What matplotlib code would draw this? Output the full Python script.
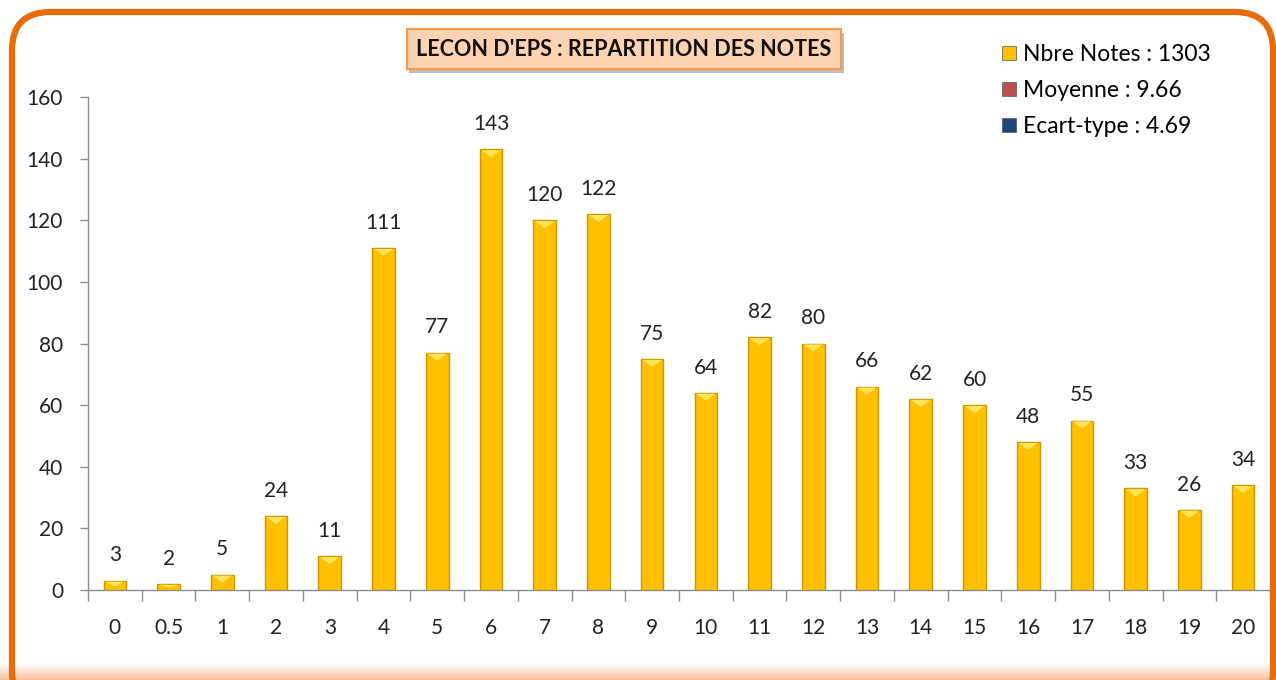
import numpy as np
import matplotlib
matplotlib.use('Agg')
import matplotlib.pyplot as plt
from matplotlib.patches import FancyBboxPatch, Polygon, Patch
import matplotlib.patheffects as pe

plt.rcParams['font.family'] = ['Lato', 'DejaVu Sans']

# data
notes = ['0', '0.5', '1', '2', '3', '4', '5', '6', '7', '8', '9', '10',
         '11', '12', '13', '14', '15', '16', '17', '18', '19', '20']
counts = [3, 2, 5, 24, 11, 111, 77, 143, 120, 122, 75, 64,
          82, 80, 66, 62, 60, 48, 55, 33, 26, 34]
legend_labels = ['Nbre Notes : 1303', 'Moyenne : 9.66', 'Ecart-type : 4.69']
legend_colors = ['#FFC000', '#C0504D', '#1F497D']
title = "LECON D'EPS : REPARTITION DES NOTES"

W, H = 1276, 680
fig = plt.figure(figsize=(W / 100, H / 100), dpi=100)
fig.patch.set_facecolor('white')

# bottom orange glow
grad_ax = fig.add_axes([0, 0, 1, 18 / H])
grad_ax.axis('off')
grad = np.linspace(0, 1, 50).reshape(-1, 1) ** 0.7
cmap = matplotlib.colors.LinearSegmentedColormap.from_list('g', ['#F6B98C', '#FFFFFF'])
grad_ax.imshow(grad, aspect='auto', cmap=cmap, origin='lower', extent=[0, 1, 0, 1])

# rounded orange frame
frame = FancyBboxPatch((12 / W, -30 / H), (1273 - 12) / W, (H + 30 - 12) / H,
                       boxstyle='round,pad=0,rounding_size=0.03',
                       transform=fig.transFigure, facecolor='none',
                       edgecolor='#E46C0A', linewidth=4.5, zorder=5,
                       mutation_aspect=W / H)
fig.patches.append(frame)

ax = fig.add_axes([88 / W, 1 - 590 / H, (1270 - 88) / W, (590 - 97) / H])
x = np.arange(len(notes))
bw = 0.42
ax.bar(x, counts, width=bw, color='#FFC000', edgecolor='#C99700',
       linewidth=1.0, zorder=3)

# little bevel on top of each bar
px_per_unit = (590 - 97) / 160
tri_h = 8 / px_per_unit
for xi, c in zip(x, counts):
    th = min(tri_h, c * 0.6)
    ax.add_patch(Polygon([(xi - bw / 2 + 0.03, c - 0.3), (xi + bw / 2 - 0.03, c - 0.3),
                          (xi, c - th)], closed=True, facecolor='#FFE45C',
                         edgecolor='none', zorder=4))
    ax.annotate(str(c), (xi, c), xytext=(0, 11), textcoords='offset points',
                ha='center', va='bottom', fontsize=15, color='#222222')

ax.set_xlim(-0.5, len(notes) - 0.5)
ax.set_ylim(0, 160)
ax.set_yticks(np.arange(0, 161, 20))
ax.tick_params(axis='y', length=6, width=1, color='#8C8C8C', pad=12,
               labelsize=15, labelcolor='#222222')
ax.set_xticks(np.arange(-0.5, len(notes)), minor=False)
ax.set_xticklabels([])
ax.set_xticks(x, minor=True)
ax.set_xticklabels(notes, minor=True)
ax.tick_params(axis='x', which='major', length=8, width=1, color='#8C8C8C')
ax.tick_params(axis='x', which='minor', length=0, pad=20, labelsize=15,
               labelcolor='#222222')
for s in ['top', 'right']:
    ax.spines[s].set_visible(False)
for s in ['left', 'bottom']:
    ax.spines[s].set_color('#8C8C8C')
    ax.spines[s].set_linewidth(1)

# title box
t = fig.text(624 / W, 1 - 49 / H, title, ha='center', va='center',
             fontsize=15.5, fontweight='bold', color='#111111', zorder=6,
             bbox=dict(boxstyle='square,pad=0.45', facecolor='#FCD3B2',
                       edgecolor='#F79646', linewidth=1.5))
t.get_bbox_patch().set_path_effects([pe.SimplePatchShadow(offset=(2, -3), alpha=0.35),
                                     pe.Normal()])

# legend
handles = [Patch(facecolor=c, edgecolor='#555555', linewidth=0.5) for c in legend_colors]
fig.legend(handles, legend_labels, loc='upper left', bbox_to_anchor=(993 / W, 1 - 35 / H),
           frameon=False, fontsize=16.5, handlelength=0.6, handleheight=0.6,
           handletextpad=0.3, labelspacing=0.65, borderaxespad=0)

fig.savefig('out.png', dpi=100)
